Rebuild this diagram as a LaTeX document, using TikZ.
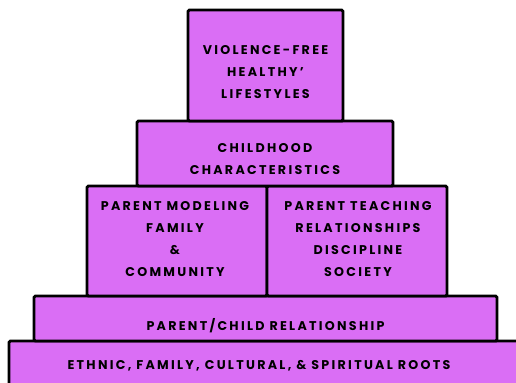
\documentclass[tikz,border=0pt]{standalone}
\usepackage{fontspec}
\newfontfamily\tierfont{Poppins}[LetterSpace=18]
\definecolor{tierfill}{RGB}{218,110,245}
\tikzset{
  tier/.style={draw=black, line width=2.2pt, fill=tierfill, rounded corners=1pt, inner sep=0pt},
  tiertext/.style={inner sep=0.75pt, align=center, font=\tierfont\bfseries\fontsize{9.5}{16.5}\selectfont}
}
\begin{document}
\begin{tikzpicture}[x=0.75pt,y=0.75pt,yscale=-1,xscale=1]
\useasboundingbox (0,0) rectangle (516,382);
\clip (0,0) rectangle (516,382);

%Shape: tiers, bottom to top
\node [tier, minimum width=531pt*0.75, minimum height=60pt*0.75] (roots) at (274.5,371) {};
\node [tier, minimum width=463pt*0.75, minimum height=45pt*0.75] (relation) at (265.5,318.5) {};
\node [tier, minimum width=180pt*0.75, minimum height=110pt*0.75] (modeling) at (177,241) {};
\node [tier, minimum width=180pt*0.75, minimum height=110pt*0.75] (teaching) at (357,241) {};
\node [tier, minimum width=256pt*0.75, minimum height=65pt*0.75] (childhood) at (265,153.5) {};
\node [tier, minimum width=155pt*0.75, minimum height=111pt*0.75] (lifestyle) at (265.5,65.5) {};

% Text Node
\node [tiertext] (lifestyletext) at (265.5,72.5) {VIOLENCE-FREE\\HEALTHY’\\LIFESTYLES};
% Text Node
\node [tiertext] (childhoodtext) at (265,159.5) {CHILDHOOD\\CHARACTERISTICS};
% Text Node
\node [tiertext] (modelingtext) at (175,239) {PARENT MODELING\\FAMILY\\\&\\COMMUNITY};
% Text Node
\node [tiertext] (teachingtext) at (358,239) {PARENT TEACHING\\RELATIONSHIPS\\DISCIPLINE\\SOCIETY};
% Text Node
\node [tiertext] (relationtext) at (265.5,326) {PARENT/CHILD RELATIONSHIP};
% Text Node
\node [tiertext] (rootstext) at (259,366) {ETHNIC, FAMILY, CULTURAL, \& SPIRITUAL ROOTS};

\end{tikzpicture}
\end{document}
